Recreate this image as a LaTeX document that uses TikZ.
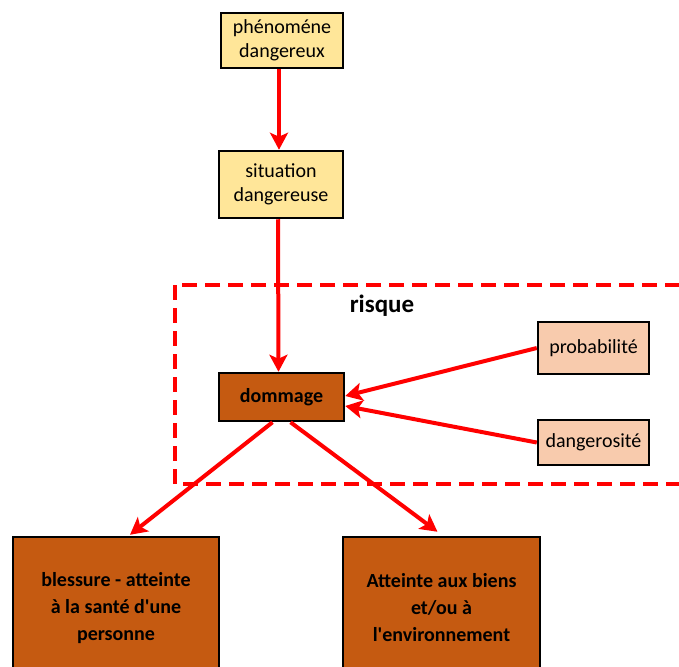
\documentclass[tikz,border=0pt]{standalone}
\usepackage{fontspec}
% a family of its own, so that ' stays a straight apostrophe
\newfontfamily\carl{Carlito}
\usetikzlibrary{arrows.meta}

\definecolor{paleyellow}{HTML}{FFE699}
\definecolor{rust}{HTML}{C55A11}
\definecolor{peach}{HTML}{F8CBAD}
\definecolor{alarm}{HTML}{FF0000}

\tikzset{
  box/.style={draw=black, line width=2.5pt, align=center, inner sep=2pt,
    font=\carl\fontsize{20}{24.5}\selectfont},
  hazard/.style={box, fill=paleyellow},
  damage/.style={box, fill=rust, font=\carl\fontsize{20}{24.5}\selectfont\bfseries},
  factor/.style={box, fill=peach},
  outcome/.style={box, fill=rust, font=\carl\fontsize{20}{27}\selectfont\bfseries},
  flow/.style={draw=alarm, line width=4pt,
    -{Stealth[length=17pt,width=18pt,inset=4pt]}},
  zone/.style={draw=alarm, line width=4pt, dash pattern=on 15pt off 8pt}
}

\begin{document}
\begin{tikzpicture}[x=1pt,y=-1pt]
\useasboundingbox (0,0) rectangle (679,666);
\clip (0,0) rectangle (679,666);

% risk zone
\draw[zone] (175,285) rectangle (700,484);
\node[font=\carl\fontsize{25}{30}\selectfont\bfseries] (risk) at (382,306) {risque};

% chain of boxes
\node[hazard, minimum width=122pt, minimum height=55pt] (phen) at (282,40.5) {phénoméne\\dangereux};
\node[hazard, minimum width=124pt, minimum height=67pt] (sit) at (281,184.5) {situation\\dangereuse};
\node[damage, minimum width=125pt, minimum height=48pt] (dom) at (281.5,397) {dommage};
\node[factor, minimum width=111pt, minimum height=52pt] (prob) at (593.5,348) {probabilité};
\node[factor, minimum width=111pt, minimum height=45pt] (dang) at (593.5,442.5) {dangerosité};

\node[outcome, minimum width=206pt, minimum height=142pt] (health) at (116,608)
  {blessure - atteinte\\à la santé d'une\\personne};
\node[outcome, minimum width=197pt, minimum height=142pt] (goods) at (441.5,608)
  {Atteinte aux biens\\et/ou à\\l'environnement};

% connectors
\draw[flow] ([xshift=-3pt]phen.south) -- ([xshift=-2pt]sit.north);
\draw[flow] ([xshift=-3pt]sit.south) -- ([xshift=-3pt]dom.north);
\draw[flow] (prob.west) -- ([yshift=1pt]dom.east);
\draw[flow] (dang.west) -- ([yshift=-9pt]dom.east);
\draw[flow] ([xshift=-9pt]dom.south) -- ([xshift=14pt,yshift=1pt]health.north);
\draw[flow] ([xshift=9pt]dom.south) -- ([xshift=-4pt,yshift=4pt]goods.north);
\end{tikzpicture}
\end{document}
